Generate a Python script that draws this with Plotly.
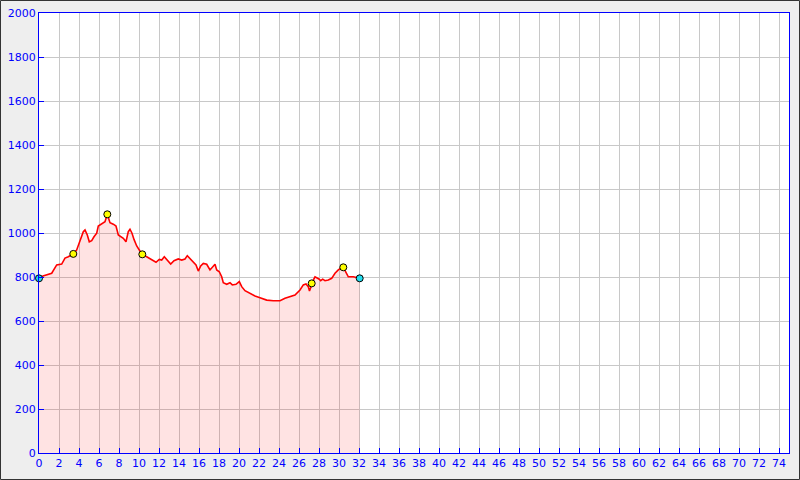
import plotly.graph_objects as go

dist_km = [0.0, 0.4, 1.27, 1.77, 2.27, 2.6, 2.93, 3.43, 3.77, 4.1, 4.43, 4.6, 4.83, 5.03, 5.27, 5.5,
           5.77, 5.93, 6.27, 6.6, 6.83, 7.1, 7.43, 7.7, 7.93, 8.17, 8.43, 8.7, 8.93, 9.1, 9.3, 9.5,
           9.77, 10.03, 10.33, 10.77, 11.27, 11.7, 12.03, 12.27, 12.53, 12.83, 13.17, 13.5, 13.93,
           14.27, 14.6, 14.83, 15.1, 15.43, 15.7, 15.93, 16.17, 16.43, 16.77, 17.1, 17.37, 17.6,
           17.77, 18.03, 18.27, 18.43, 18.77, 19.1, 19.33, 19.7, 20.03, 20.27, 20.6, 21.1, 21.6,
           22.1, 22.77, 23.43, 24.1, 24.6, 25.1, 25.6, 26.1, 26.43, 26.7, 26.93, 27.05, 27.27,
           27.43, 27.6, 27.83, 28.03, 28.17, 28.37, 28.6, 28.93, 29.27, 29.6, 29.93, 30.17, 30.43,
           30.7, 30.93, 31.43, 31.77, 32.07]
elev_m = [794, 805, 817, 855, 859, 886, 892, 905, 923, 968, 1006, 1014, 991, 960, 965, 983,
          999, 1032, 1041, 1051, 1085, 1047, 1040, 1032, 991, 983, 976, 960, 1006, 1017, 999, 971,
          941, 923, 903, 892, 877, 867, 880, 877, 892, 874, 859, 874, 882,
          877, 882, 897, 885, 870, 855, 827, 850, 862, 858, 832, 847, 858,
          832, 824, 801, 774, 767, 774, 764, 767, 779, 756, 738, 726, 714,
          706, 695, 692, 692, 703, 710, 718, 741, 764, 768, 756, 736, 771,
          786, 801, 797, 790, 783, 790, 783, 786, 794, 817, 832, 840, 844,
          824, 801, 801, 797, 794]

end_km = [0.0, 32.07]
end_elev = [794, 794]
way_km = [3.43, 6.83, 10.33, 27.27, 30.43]
way_elev = [905, 1085, 903, 771, 844]

x_ticks = list(range(0, 75, 2))
y_ticks = list(range(0, 2001, 200))

fig = go.Figure()
fig.add_trace(go.Scatter(x=dist_km, y=elev_m, mode="lines", fill="tozeroy",
                         fillcolor="rgba(255,0,0,0.11)",
                         line=dict(color="#ff0000", width=1.6), hoverinfo="skip"))
fig.add_trace(go.Scatter(x=way_km, y=way_elev, mode="markers", cliponaxis=False,
                         marker=dict(color="#ffff00", size=7, line=dict(color="#000000", width=1))))
fig.add_trace(go.Scatter(x=end_km, y=end_elev, mode="markers", cliponaxis=False,
                         marker=dict(color="#22ddee", size=7, line=dict(color="#000000", width=1))))

L, R, T, B = 39, 11, 13, 27
W, H = 800, 480
pw, ph = W - L - R, H - T - B
fig.add_shape(type="rect", xref="paper", yref="paper",
              x0=(0.5 - L) / pw, x1=(W - 0.5 - L) / pw,
              y0=-(B - 0.5) / ph, y1=1 + (T - 0.5) / ph,
              line=dict(color="#333333", width=1), layer="below")

axis_common = dict(showgrid=True, gridcolor="#c8c8c8", gridwidth=1,
                   showline=True, linecolor="#0000ff", linewidth=1, mirror=True,
                   ticks="inside", ticklen=5, tickcolor="#0000ff",
                   tickfont=dict(family="DejaVu Sans", size=11, color="#0000ff"),
                   zeroline=False, fixedrange=True, automargin=False)
fig.update_xaxes(range=[0, 75], tickvals=x_ticks, ticktext=[str(v) for v in x_ticks], **axis_common)
fig.update_yaxes(range=[0, 2000], tickvals=y_ticks, ticktext=[str(v) for v in y_ticks], **axis_common)

fig.update_layout(width=W, height=H, margin=dict(l=L, r=R, t=T, b=B, autoexpand=False),
                  paper_bgcolor="#eeeeee", plot_bgcolor="#ffffff",
                  showlegend=False)
fig.write_html("out.html", config={"displayModeBar": False},
               post_script="document.body.style.margin='0px';document.body.style.overflow='hidden';")
